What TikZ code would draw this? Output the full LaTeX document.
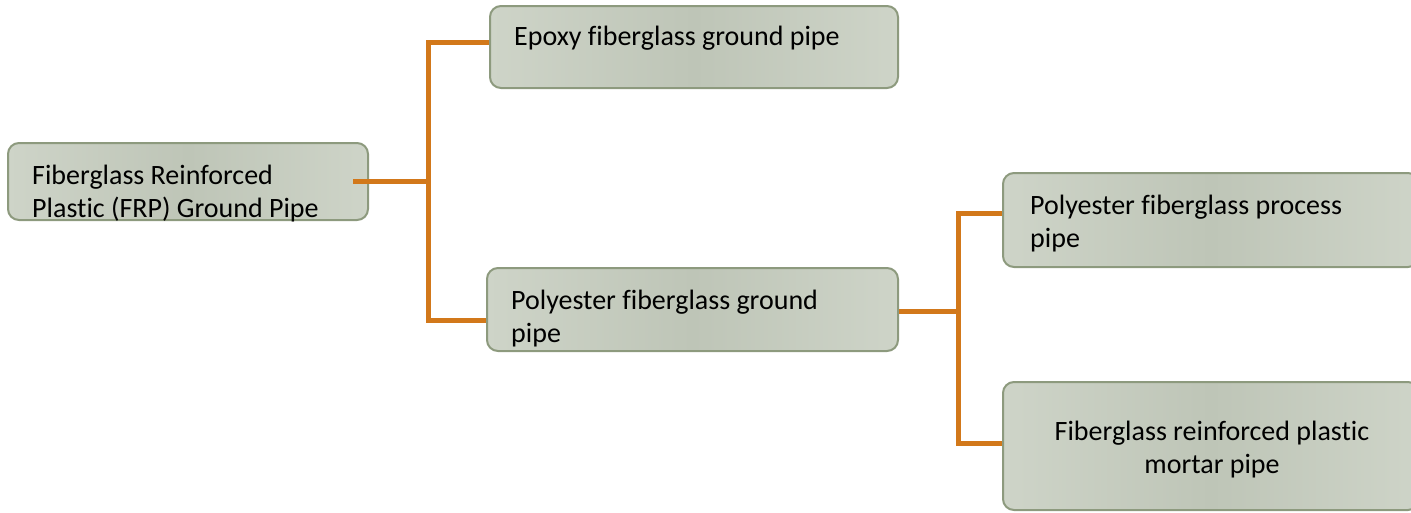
\documentclass[tikz,border=0pt]{standalone}
\usepackage{fontspec}
\setmainfont{Carlito}[Ligatures=NoCommon]
\definecolor{boxedge}{HTML}{CED4C8}
\definecolor{boxmid}{HTML}{BEC5B7}
\definecolor{boxline}{HTML}{8D9A7E}
\definecolor{branch}{HTML}{D2781A}
\tikzset{
  pipebox/.style={draw=boxline, line width=2pt, rounded corners=11pt,
    left color=boxedge, right color=boxedge, middle color=boxmid,
    inner sep=0pt},
  boxtext/.style={inner sep=0pt, font=\fontsize{28}{33}\selectfont, text=black},
  link/.style={draw=branch, line width=5pt}
}
\begin{document}
\begin{tikzpicture}[x=1pt, y=-1pt]
\useasboundingbox (0,0) rectangle (1411,512);

% boxes
\node[pipebox, minimum width=408pt, minimum height=82pt] (epoxy) at (694,47) {};
\node[pipebox, minimum width=411pt, minimum height=83pt] (polyg) at (692.5,309.5) {};
\node[pipebox, minimum width=416pt, minimum height=94pt] (proc) at (1211,220) {};
\node[pipebox, minimum width=416pt, minimum height=128pt] (mortar) at (1211,446) {};
\node[pipebox, minimum width=360pt, minimum height=77pt] (root) at (188,181.5) {};

% labels (base anchor sits on the last line)
\node[boxtext, anchor=base west, align=left] (rootT) at (32,217) {Fiberglass Reinforced\\Plastic (FRP) Ground Pipe};
\node[boxtext, anchor=base west] (epoxyT) at (514,45) {Epoxy fiberglass ground pipe};
\node[boxtext, anchor=base west, align=left] (polygT) at (511,342) {Polyester fiberglass ground\\pipe};
\node[boxtext, anchor=base west, align=left] (procT) at (1030,247) {Polyester fiberglass process\\pipe};
\node[boxtext, anchor=base, align=center] (mortarT) at (1212,473) {Fiberglass reinforced plastic\\mortar pipe};

% connectors
\coordinate (rootOut) at ([xshift=-16pt]root.east);
\coordinate (j1) at (428,0);
\coordinate (j2) at (958,0);
\coordinate (epoxyIn) at ([yshift=5pt]epoxy.west);
\coordinate (polygIn) at ([yshift=-10.5pt]polyg.west);
\coordinate (polygOut) at ([yshift=-1.5pt]polyg.east);
\coordinate (procIn) at ([yshift=7pt]proc.west);
\coordinate (mortarIn) at ([yshift=3pt]mortar.west);
\draw[link] (rootOut) -- (rootOut -| j1);
\draw[link] (epoxyIn) -- (epoxyIn -| j1) -- (polygIn -| j1) -- (polygIn);
\draw[link] (polygOut) -- (polygOut -| j2);
\draw[link] (procIn) -- (procIn -| j2) -- (mortarIn -| j2) -- (mortarIn);
\end{tikzpicture}
\end{document}
